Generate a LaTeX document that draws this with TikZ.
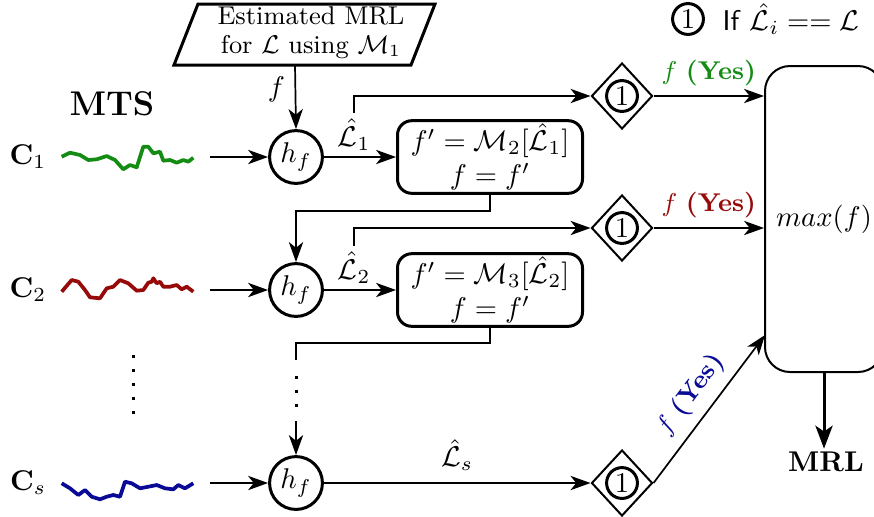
\documentclass[tikz,border=0pt]{standalone}
\usepackage{amsmath,amssymb}
\usetikzlibrary{arrows.meta,shapes.geometric,calc}
\definecolor{cgreen}{RGB}{20,140,20}
\definecolor{cred}{RGB}{150,10,10}
\definecolor{cblue}{RGB}{10,10,150}
\begin{document}
\begin{tikzpicture}[x=0.35pt,y=-0.35pt,
  hnode/.style={circle, draw, line width=1.05pt, minimum size=18.5pt, inner sep=0pt},
  fbox/.style={draw, rounded corners=5pt, line width=1.05pt, minimum width=64.75pt, minimum height=24.5pt, align=center, inner sep=1pt},
  dnode/.style={diamond, draw, line width=0.7pt, minimum width=21.35pt, minimum height=23.1pt, inner sep=0pt},
  onode/.style={circle, draw, line width=1.05pt, minimum size=10.8pt, inner sep=0pt},
  arr/.style={-{Stealth[length=7pt,width=5pt,inset=2pt]}, line width=0.6pt},
  conn/.style={line width=0.6pt},
  wave/.style={line width=1.3pt, line join=round},
  yes/.style={font=\small},
  dotline/.style={line width=1.05pt, dash pattern=on 1.05pt off 3.85pt}
]
\useasboundingbox (0,0) rectangle (874,516);

% input parallelogram
\draw[line width=1.05pt] (198,4) -- (435,4) -- (411,65) -- (174,65) -- cycle;
\node[font=\small, align=center, inner sep=0pt] (est) at (311,33) {Estimated MRL\\[-1pt]for $\mathcal{L}$ using $\mathcal{M}_1$};
\coordinate (pb) at (295,65);

% legend
\node[onode] (lc) at (688,19) {1};
\node[anchor=west, inner sep=0pt] (lt) at (722,19) {\textsf{If} $\hat{\mathcal{L}}_i == \mathcal{L}$};

% MTS
\node[font=\bfseries\large] (mts) at (112,104) {MTS};

% channel labels
\node (c1) at (28,157) {$\mathbf{C}_1$};
\node (c2) at (28,290) {$\mathbf{C}_2$};
\node (c3) at (28,483) {$\mathbf{C}_s$};

% waves
\draw[wave, cgreen] (61.7,156.7) -- (70,152.7) -- (80,155) -- (88.3,160) -- (96.7,159.3) -- (106.7,156) -- (115,160) -- (123.3,169.3) -- (130,165) -- (136.7,167.3) -- (143.3,146.7) -- (148.3,146.7) -- (153.3,153.3) -- (160,151.7) -- (163.3,160.7) -- (170,160) -- (176.7,162.7) -- (183.3,160) -- (188.3,161.7) -- (193.3,157.7);
\draw[wave, cred] (61.7,291.7) -- (71.7,280) -- (78.3,281.7) -- (85,290) -- (90,297.3) -- (100,298.3) -- (106.7,288.3) -- (113.3,286.7) -- (120,280) -- (128.3,283.3) -- (136.7,290.7) -- (143.3,290) -- (148.3,282.7) -- (151.7,281.7) -- (153.3,278.3) -- (156.7,283.3) -- (160,281.7) -- (163.3,286.7) -- (170,286.7) -- (176.7,285) -- (181.7,289.3) -- (186.7,286.7) -- (193.3,291.7);
\draw[wave, cblue] (61.7,483.3) -- (70,488.3) -- (78.3,495) -- (85,490) -- (91.7,496.7) -- (100,499.3) -- (106.7,496.7) -- (113.3,495) -- (120,496.7) -- (125,481.7) -- (131.7,483.3) -- (140,488.3) -- (148.3,486.7) -- (156.7,485) -- (165,488.3) -- (173.3,489.3) -- (178.3,485) -- (185,488.3) -- (193.3,483.3);

\coordinate (w1) at (210,157);
\coordinate (w2) at (210,290);
\coordinate (w3) at (210,483);

% left vertical dots
\draw[dotline] (133,355) -- (133,414);

% h_f nodes
\node[hnode] (h1) at (296,157) {$h_f$};
\node[hnode] (h2) at (296,290) {$h_f$};
\node[hnode] (h3) at (296,483) {$h_f$};

% update boxes
\node[fbox] (b1) at (490,157) {$f' = \mathcal{M}_2[\hat{\mathcal{L}}_1]$\\$f = f'$};
\node[fbox] (b2) at (490,290) {$f' = \mathcal{M}_3[\hat{\mathcal{L}}_2]$\\$f = f'$};

% decision diamonds
\node[dnode] (d1) at (622,96) {};
\node[onode] (o1) at (d1) {1};
\node[dnode] (d2) at (622,228) {};
\node[onode] (o2) at (d2) {1};
\node[dnode] (d3) at (622,483) {};
\node[onode] (o3) at (d3) {1};

% max box
\node[draw, line width=0.7pt, rounded corners=8.75pt, minimum width=41.3pt, minimum height=107.1pt, inner sep=0pt] (mb) at (824,219) {$max(f)$};
\coordinate (mt) at (765,335);
\node[font=\bfseries, inner sep=1pt] (mrl) at (826,462) {MRL};

% connectors
\draw[arr] (pb) -- node[pos=0.38, left] {$f$} (h1.north);
\draw[arr] (w1) -- (h1);
\draw[arr] (w2) -- (h2);
\draw[arr] (w3) -- (h3);

\draw[arr] (h1) -- node[pos=0.42, above, inner sep=2pt] (l1) {$\hat{\mathcal{L}}_1$} (b1);
\draw[arr] (h2) -- node[pos=0.42, above, inner sep=2pt] (l2) {$\hat{\mathcal{L}}_2$} (b2);
\draw[arr] (h3) -- node[midway, above, inner sep=4pt] (l3) {$\hat{\mathcal{L}}_s$} (d3);

\draw[arr] (l1.north) |- (d1.west);
\draw[arr] (l2.north) |- (d2.west);

\draw[arr] (b1.south) -- ++(0,16) -| (h2.north);
\coordinate (v1) at (296,360);
\coordinate (v2) at (296,421);
\draw[conn] (b2.south) -- ++(0,15) -| (v1);
\draw[dotline] (296,375.5) -- (296,410);
\draw[arr] (v2) -- (h3.north);

\draw[arr] (d1.east) -- node[midway, above, yes, text=cgreen] {$f$ \textbf{(Yes)}} (d1.east -| mb.west);
\draw[arr] (d2.east) -- node[midway, above, yes, text=cred] {$f$ \textbf{(Yes)}} (d2.east -| mb.west);
\draw[arr] (d3.east) -- node[midway, above, sloped, yes, text=cblue] {$f$ \textbf{(Yes)}} (mt);

\draw[-{Stealth[length=8pt,width=6pt,inset=2pt]}, line width=1.05pt] (mb.south) -- (mb.south |- mrl.north);
\end{tikzpicture}
\end{document}
